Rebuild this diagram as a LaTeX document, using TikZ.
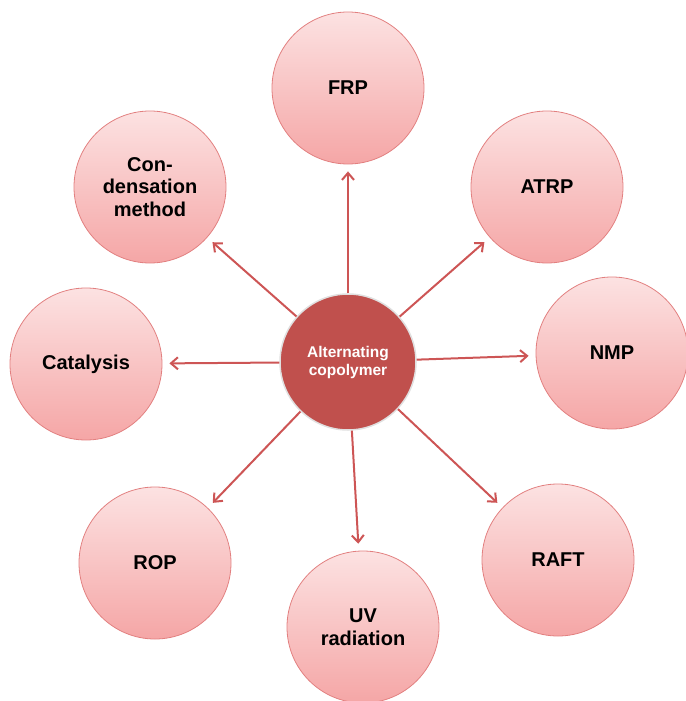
\documentclass[tikz,border=0pt]{standalone}
\usepackage{fontspec}
\setmainfont{Liberation Sans}
\usepackage{tikz}
\usetikzlibrary{arrows.meta}

\definecolor{coreRed}{RGB}{192,80,77}
\definecolor{linkRed}{RGB}{205,85,85}
\definecolor{pinkTop}{RGB}{252,226,226}
\definecolor{pinkBot}{RGB}{245,166,166}
\definecolor{pinkEdge}{RGB}{226,128,128}

\tikzset{
	method/.style = {circle, minimum size = 152pt, inner sep = 0pt, align = center,
		top color = pinkTop, bottom color = pinkBot, draw = pinkEdge, line width = 0.8pt,
		font = \fontsize{20}{22.5}\selectfont\bfseries},
	polymer/.style = {circle, minimum size = 136pt, inner sep = 0pt, align = center,
		fill = coreRed, draw = white!88!black, line width = 1.5pt, text = white,
		font = \fontsize{15.5}{18}\selectfont\bfseries},
	link/.style = {draw = linkRed, line width = 2pt,
		-{Straight Barb[length = 7pt, width = 12pt]}, shorten > = 7pt}
}

\begin{document}
\begin{tikzpicture}[x = 1pt, y = -1pt]
					\def\W{685};
					\def\H{701};

					\useasboundingbox (0,0) rectangle (\W,\H);

					\begin{scope}
						\node [polymer] (core) at (348,362) {Alternating\\copolymer};
					\end{scope}

					\begin{scope}
						\node [method] (frp)  at (348,88)  {FRP};
						\node [method] (atrp) at (547,187) {ATRP};
						\node [method] (nmp)  at (612,353) {NMP};
						\node [method] (raft) at (558,560) {RAFT};
						\node [method] (uv)   at (363,627) {UV\\radiation};
						\node [method] (rop)  at (155,563) {ROP};
						\node [method] (cat)  at (86,364)  {Catalysis};
						\node [method] (cond) at (150,187) {Con-\\densation\\method};
					\end{scope}

					\begin{scope}
						\foreach \m in {frp, atrp, nmp, raft, uv, rop, cat, cond}
							\draw [link] (core) -- (\m);
					\end{scope}
				\end{tikzpicture}
\end{document}
